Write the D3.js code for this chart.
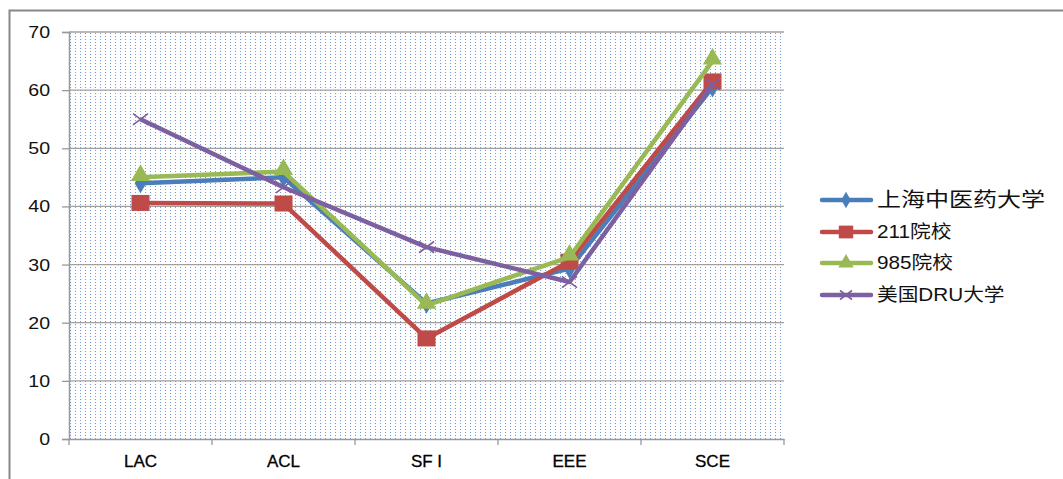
<!DOCTYPE html>
<html><head><meta charset="utf-8">
<script src="https://cdn.jsdelivr.net/npm/d3@7"></script>
<style>body{margin:0;background:#fff}svg{display:block}</style>
</head><body>
<script>
const categories = ["LAC", "ACL", "SF I", "EEE", "SCE"];
const seriesNames = ["上海中医药大学", "211院校", "985院校", "美国DRU大学"];
const shutcm = [44, 45, 23.3, 29.3, 60.5];
const s211 = [40.6, 40.5, 17.3, 30.5, 61.5];
const s985 = [45, 46, 23, 31.3, 65];
const dru = [55, 43.3, 33, 27, 61];
const yTicks = [0, 10, 20, 30, 40, 50, 60, 70];
const colors = ["#4a7ebb", "#be4b48", "#98b954", "#7d60a0"];
const symbols = ["diamond", "square", "triangle", "cross"];
const series = [shutcm, s211, s985, dru];

const W = 1063, H = 479;
const svg = d3.select("body").append("svg").attr("width", W).attr("height", H);
const defs = svg.append("defs");
const pat = defs.append("pattern").attr("id", "dots").attr("patternUnits", "userSpaceOnUse")
  .attr("width", 5).attr("height", 3).attr("x", 69).attr("y", 32);
pat.append("rect").attr("width", 5).attr("height", 3).attr("fill", "#fff");
pat.append("rect").attr("x", 1).attr("y", 1).attr("width", 1).attr("height", 1).attr("fill", "#6f9ad6");

const FONT = "Liberation Sans, Arial, 'Noto Sans CJK SC', sans-serif";

// outer frame
svg.append("path").attr("d", `M9.5,${H} V10.5 H${W}`).attr("fill", "none").attr("stroke", "#888").attr("stroke-width", 2);

const L = 69, R = 784, T = 32, B = 439;
const x = d3.scaleBand().domain(categories).range([L, R]);
const y = d3.scaleLinear().domain([0, 70]).range([B, T]);

svg.append("rect").attr("x", L).attr("y", T).attr("width", R - L).attr("height", B - T).attr("fill", "url(#dots)");

// gridlines
svg.append("g").selectAll("line").data(yTicks.filter(d => d > 0)).join("line")
  .attr("x1", L).attr("x2", R).attr("y1", d => y(d)).attr("y2", d => y(d))
  .attr("stroke", "#a0a0a0").attr("stroke-width", 1.3);

function stretch(sel, k) {
  sel.each(function () {
    const t = d3.select(this);
    const x0 = +t.attr("x") || 0, y0 = +t.attr("y") || 0;
    t.attr("x", 0).attr("y", 0).attr("transform", `translate(${x0},${y0}) scale(${k},1)`);
  });
}

// y axis
const ya = svg.append("g").attr("transform", `translate(${L},0)`)
  .call(d3.axisLeft(y).tickValues(yTicks).tickSize(7).tickPadding(12).tickFormat(d3.format("d")));
ya.select(".domain").attr("stroke", "#999").attr("stroke-width", 1.5);
ya.selectAll(".tick line").attr("stroke", "#999").attr("stroke-width", 1.3);
ya.selectAll("text").attr("font-family", FONT).attr("font-size", 17).attr("fill", "#111");
stretch(ya.selectAll("text"), 1.15);

// x axis
const xa = svg.append("g").attr("transform", `translate(0,${B})`)
  .call(d3.axisBottom(x).tickSize(0).tickPadding(16));
xa.select(".domain").attr("stroke", "#999").attr("stroke-width", 1.5);
xa.selectAll("text").attr("font-family", FONT).attr("font-size", 17).attr("fill", "#000")
  .attr("stroke", "#000").attr("stroke-width", 0.3);
const bounds = categories.map((c) => x(c)).concat([R]);
xa.selectAll(".btick").data(bounds).join("line").attr("class", "btick")
  .attr("x1", d => d).attr("x2", d => d).attr("y1", 0).attr("y2", 6)
  .attr("stroke", "#999").attr("stroke-width", 1.3);

const cx = c => x(c) + x.bandwidth() / 2;
const line = d3.line().x((d, i) => cx(categories[i])).y(d => y(d));

function marker(g, type, color, px, py, scale) {
  const s = scale || 1;
  if (type === "diamond") {
    g.append("path").attr("d", d3.symbol(d3.symbolDiamond, 120 * s * s)()).attr("transform", `translate(${px},${py})`).attr("fill", color);
  } else if (type === "square") {
    g.append("rect").attr("x", px - 9 * s).attr("y", py - 8 * s).attr("width", 18 * s).attr("height", 16 * s).attr("fill", color);
  } else if (type === "triangle") {
    g.append("path").attr("d", d3.symbol(d3.symbolTriangle, 160 * s * s)()).attr("transform", `translate(${px},${py - 2})`).attr("fill", color);
  } else {
    const r = 7.5 * s;
    g.append("path").attr("d", `M${px - r},${py - r * 0.75}L${px + r},${py + r * 0.75}M${px - r},${py + r * 0.75}L${px + r},${py - r * 0.75}`)
      .attr("stroke", color).attr("stroke-width", 1.6).attr("fill", "none");
  }
}

series.forEach((vals, si) => {
  const g = svg.append("g");
  g.append("path").datum(vals).attr("d", line).attr("fill", "none")
    .attr("stroke", colors[si]).attr("stroke-width", 4.5).attr("stroke-linejoin", "round");
  vals.forEach((v, i) => marker(g, symbols[si], colors[si], cx(categories[i]), y(v)));
});

// legend
const lg = svg.append("g");
const ly = [200, 232, 263, 295];
seriesNames.forEach((n, i) => {
  lg.append("line").attr("x1", 822).attr("x2", 871).attr("y1", ly[i]).attr("y2", ly[i])
    .attr("stroke", colors[i]).attr("stroke-width", 4.5).attr("stroke-linecap", "round");
  marker(lg, symbols[i], colors[i], 846, ly[i] + (symbols[i] === "triangle" ? 2 : 0), 0.8);
  const t = lg.append("text").attr("x", 877).attr("y", ly[i]).attr("dy", "0.36em")
    .attr("font-family", FONT).attr("font-size", i === 0 ? 20 : 18)
    .attr("fill", "#111").text(n);
  stretch(t, i === 0 ? 1.2 : 1.15);
  t.attr("dy", "0.36em");
});
</script>
</body></html>
